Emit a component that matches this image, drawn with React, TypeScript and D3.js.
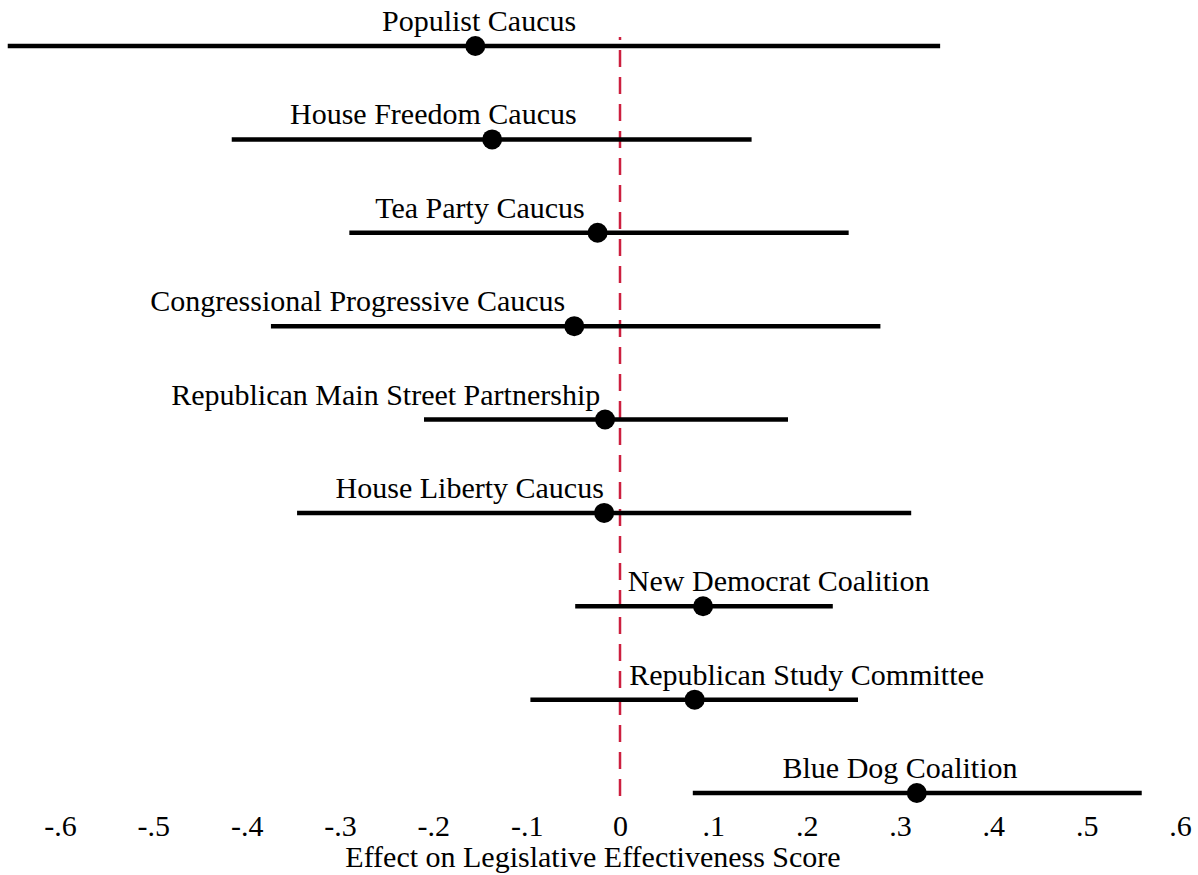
import { useRef, useEffect } from 'react'
import * as d3 from 'd3'

// caucus effects, top to bottom
const caucuses = [
  'Populist Caucus',
  'House Freedom Caucus',
  'Tea Party Caucus',
  'Congressional Progressive Caucus',
  'Republican Main Street Partnership',
  'House Liberty Caucus',
  'New Democrat Coalition',
  'Republican Study Committee',
  'Blue Dog Coalition',
]
const estimates = [-0.155, -0.137, -0.024, -0.049, -0.016, -0.017, 0.089, 0.08, 0.318]
const lower = [-0.656, -0.416, -0.29, -0.374, -0.21, -0.346, -0.048, -0.096, 0.078]
const upper = [0.343, 0.141, 0.245, 0.279, 0.18, 0.312, 0.228, 0.255, 0.559]
// where each caucus name sits, in effect units (centre of the label)
const labelAt = [-0.151, -0.2, -0.15, -0.281, -0.251, -0.161, 0.17, 0.2, 0.3]
const ticks = [-0.6, -0.5, -0.4, -0.3, -0.2, -0.1, 0, 0.1, 0.2, 0.3, 0.4, 0.5, 0.6]
const xTitle = 'Effect on Legislative Effectiveness Score'

const W = 1198
const H = 875
const FONT = '"Liberation Serif", "Times New Roman", serif'

const App = () => {
  const ref = useRef<SVGSVGElement>(null)

  useEffect(() => {
    const svg = d3.select(ref.current as SVGSVGElement)
    svg.selectAll('*').remove()

    const x = d3.scaleLinear().domain([0, 0.6]).range([620, 1180])
    const y = d3.scalePoint<string>().domain(caucuses).range([46, 793])

    const rows = caucuses.map((name, i) => ({
      name,
      est: estimates[i],
      lo: lower[i],
      hi: upper[i],
      lab: labelAt[i],
    }))

    // zero reference
    svg
      .append('line')
      .attr('x1', x(0))
      .attr('x2', x(0))
      .attr('y1', 37)
      .attr('y2', 800)
      .attr('stroke', '#cc1f3f')
      .attr('stroke-width', 2.5)
      .attr('stroke-dasharray', '17 10')
      .attr('stroke-dashoffset', 14)

    const g = svg.append('g')

    g.selectAll('line.ci')
      .data(rows)
      .enter()
      .append('line')
      .attr('class', 'ci')
      .attr('x1', (d) => x(d.lo))
      .attr('x2', (d) => x(d.hi))
      .attr('y1', (d) => y(d.name)!)
      .attr('y2', (d) => y(d.name)!)
      .attr('stroke', '#000')
      .attr('stroke-width', 4.5)

    g.selectAll('circle')
      .data(rows)
      .enter()
      .append('circle')
      .attr('cx', (d) => x(d.est))
      .attr('cy', (d) => y(d.name)!)
      .attr('r', 10)
      .attr('fill', '#000')

    g.selectAll('text.lab')
      .data(rows)
      .enter()
      .append('text')
      .attr('class', 'lab')
      .attr('x', (d) => x(d.lab))
      .attr('y', (d) => y(d.name)! - 15)
      .attr('text-anchor', 'middle')
      .attr('font-family', FONT)
      .attr('font-size', 30)
      .text((d) => d.name)

    // Stata-style labels: -.6, 0, .1 with a plain hyphen
    const fmt = (v: number) =>
      v === 0 ? '0' : d3.format('.1f')(v).replace('\u2212', '-').replace('0.', '.')
    const axis = d3.axisBottom(x).tickValues(ticks).tickSize(0).tickPadding(0).tickFormat((d) => fmt(+d))

    const ax = svg.append('g').attr('transform', 'translate(0, 812)').call(axis)
    ax.select('.domain').remove()
    ax.selectAll('text')
      .attr('font-family', FONT)
      .attr('font-size', 30)
      .attr('fill', '#000')
      .attr('dy', 0)
      .attr('y', 24)

    svg
      .append('text')
      .attr('x', 593)
      .attr('y', 867)
      .attr('text-anchor', 'middle')
      .attr('font-family', FONT)
      .attr('font-size', 30)
      .text(xTitle)
  }, [])

  return (
    <svg
      ref={ref}
      width={W}
      height={H}
      style={{ position: 'absolute', left: 0, top: 0, background: '#fff' }}
    />
  )
}

export default App
